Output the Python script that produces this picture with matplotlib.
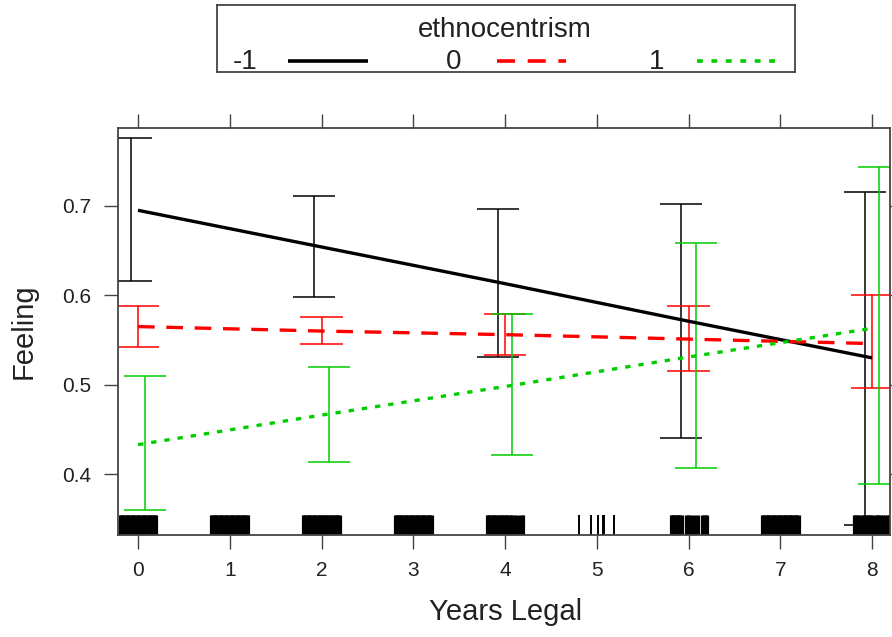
import numpy as np
import matplotlib.pyplot as plt
from matplotlib.lines import Line2D

plt.rcParams['font.family'] = ['Liberation Sans', 'DejaVu Sans']

# Efectos estimados por nivel de etnocentrismo
anios = [0, 2, 4, 6, 8]
niveles = ['-1', '0', '1']
colores = ['black', '#FF0000', '#00CD00']
estilos = ['-', (0, (5, 3.5)), (0, (1.6, 2.4))]
desplaz = [-0.08, 0.0, 0.08]

efecto_m1 = [0.695, 0.654, 0.613, 0.571, 0.530]
efecto_0 = [0.565, 0.560, 0.556, 0.551, 0.546]
efecto_1 = [0.433, 0.466, 0.498, 0.531, 0.563]

inf_m1 = [0.616, 0.598, 0.531, 0.440, 0.343]
sup_m1 = [0.776, 0.711, 0.696, 0.702, 0.716]
inf_0 = [0.542, 0.545, 0.533, 0.515, 0.496]
sup_0 = [0.588, 0.576, 0.579, 0.588, 0.600]
inf_1 = [0.360, 0.414, 0.421, 0.407, 0.389]
sup_1 = [0.510, 0.520, 0.579, 0.658, 0.743]

# Rug de Years Legal (con jitter)
anios_densos = [0, 1, 2, 3, 7]
rug_denso = [-0.2, -0.19, -0.175, -0.16, -0.15, -0.135, -0.12, -0.11, -0.095, -0.08,
             -0.07, -0.055, -0.04, -0.03, -0.015, 0.0, 0.01, 0.025, 0.04, 0.05,
             0.065, 0.08, 0.09, 0.105, 0.12, 0.13, 0.145, 0.16, 0.17, 0.185, 0.2]
rug_4 = [-0.2, -0.19, -0.175, -0.16, -0.145, -0.13, -0.12, -0.105, -0.09, -0.08,
         -0.06, -0.045, -0.035, -0.02, 0.0, 0.01, 0.025, 0.045, 0.06, 0.07,
         0.095, 0.12, 0.155, 0.18, 0.195]
rug_5 = [-0.196, -0.065, 0.01, 0.07, 0.08, 0.185]
rug_6 = [-0.196, -0.185, -0.17, -0.16, -0.145, -0.13, -0.12, -0.105, -0.09, -0.075,
         -0.03, -0.005, 0.01, 0.04, 0.075, 0.1, 0.15, 0.165, 0.185, 0.2]
rug_8 = [-0.2, -0.185, -0.17, -0.155, -0.14, -0.11, -0.095, -0.08, -0.06, -0.045,
         -0.03, -0.015, 0.0, 0.03, 0.05, 0.065, 0.08, 0.1, 0.125, 0.14, 0.16, 0.18, 0.195]

efectos = [efecto_m1, efecto_0, efecto_1]
inferiores = [inf_m1, inf_0, inf_1]
superiores = [sup_m1, sup_0, sup_1]

gris = '#444444'
fig = plt.figure(figsize=(8.92, 6.37), dpi=100)
ax = fig.add_axes([118 / 892, 1 - 535 / 637, 772 / 892, 407 / 637])

# Barras de error y lineas
for k in range(3):
    xs = np.array(anios) + desplaz[k]
    ax.vlines(xs, inferiores[k], superiores[k], color=colores[k], lw=1.1)
    ax.hlines(inferiores[k], xs - 0.23, xs + 0.23, color=colores[k], lw=1.1)
    ax.hlines(superiores[k], xs - 0.23, xs + 0.23, color=colores[k], lw=1.1)
for k in range(3):
    ax.plot(anios, efectos[k], color=colores[k], linestyle=estilos[k], lw=2.4,
            solid_capstyle='butt', dash_capstyle='butt')

# Rug
pos_rug = []
for a in anios_densos:
    pos_rug += [a + d for d in rug_denso]
pos_rug += [4 + d for d in rug_4]
pos_rug += [6 + d for d in rug_6]
pos_rug += [8 + d for d in rug_8]
trans = ax.get_xaxis_transform()
ax.vlines(pos_rug, 0, 0.05, transform=trans, color='black', lw=2.3)
ax.vlines([5 + d for d in rug_5], 0, 0.05, transform=trans, color='black', lw=1.4)

ax.set_xlim(-0.218, 8.196)
ax.set_ylim(0.332, 0.787)
ax.set_xticks(range(9))
ax.set_yticks([0.4, 0.5, 0.6, 0.7])
ax.set_yticklabels(['0.4', '0.5', '0.6', '0.7'])
ax.tick_params(direction='out', length=10, width=1.0, color=gris, labelsize=15,
               labelcolor='#222222', pad=9, top=True, right=True)
for s in ax.spines.values():
    s.set_color(gris)
    s.set_linewidth(1.3)

ax.set_xlabel('Years Legal', fontsize=21, color='#222222')
ax.set_ylabel('Feeling', fontsize=21, color='#222222')
ax.xaxis.set_label_coords(0.502, -0.155)
ax.yaxis.set_label_coords(-0.104, 0.5)

# Leyenda (estilo lattice, arriba)
lg = fig.add_axes([217 / 892, 1 - 72 / 637, 578 / 892, 67 / 637])
lg.set_xlim(217, 795)
lg.set_ylim(72, 5)
lg.set_xticks([])
lg.set_yticks([])
for s in lg.spines.values():
    s.set_color(gris)
    s.set_linewidth(1.3)
lg.text(505, 30, 'ethnocentrism', fontsize=20, ha='center', va='center', color='#222222')
etiqueta_x = [245, 454, 657]
linea_x = [(288, 368), (497, 566), (697, 775)]
for k in range(3):
    lg.text(etiqueta_x[k], 62, niveles[k], fontsize=20, ha='center', va='center', color='#222222')
    lg.add_line(Line2D(linea_x[k], [61, 61], color=colores[k], linestyle=estilos[k], lw=2.6,
                       solid_capstyle='butt', dash_capstyle='butt'))

fig.savefig('out.png', dpi=100)
